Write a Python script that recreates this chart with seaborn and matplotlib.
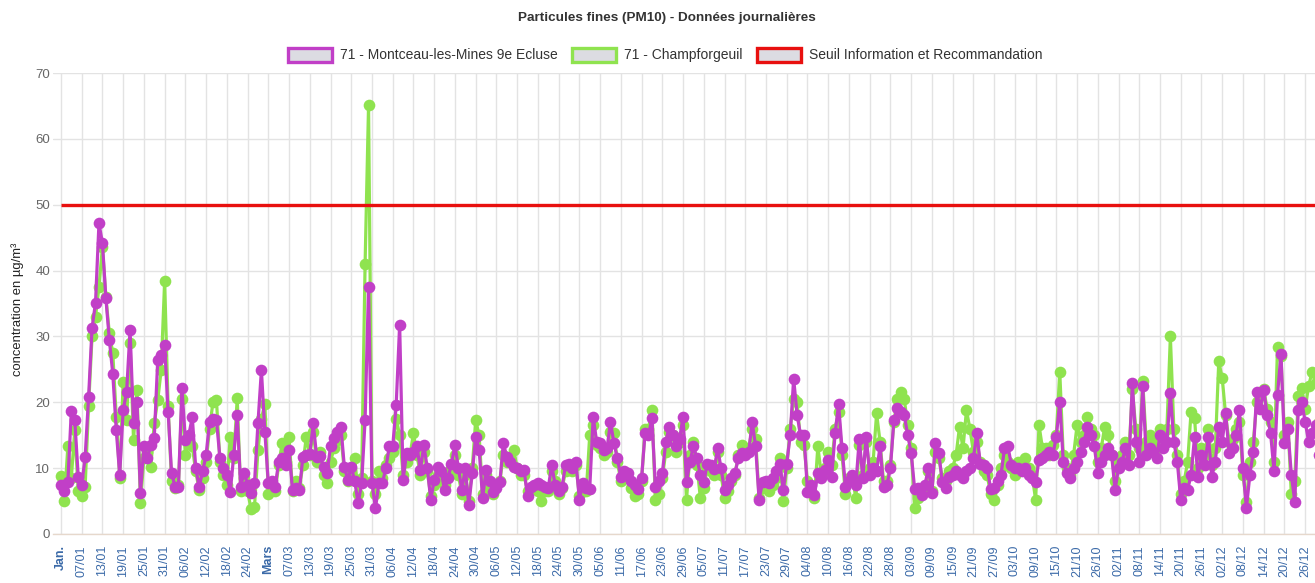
import matplotlib
matplotlib.use("Agg")
import matplotlib.pyplot as plt
import seaborn as sns
import pandas as pd
from matplotlib.patches import Rectangle

# ---------------- data (PM10 daily, µg/m³) ----------------
montceau = [
    7.4, 6.5, 7.9, 18.7, 17.3, 8.7, 7.4, 11.7, 20.8, 31.3,
    35.1, 47.2, 44.2, 35.8, 29.5, 24.3, 15.8, 9.0, 18.8, 21.6,
    31.0, 16.8, 20.1, 6.2, 13.3, 11.5, 13.5, 14.6, 26.4, 27.2,
    28.7, 18.6, 9.3, 7.2, 7.2, 22.2, 14.3, 15.0, 17.8, 10.0,
    7.2, 9.5, 12.0, 17.0, 17.5, 17.3, 11.5, 10.0, 9.0, 6.4,
    12.0, 18.0, 7.2, 9.3, 7.5, 6.2, 7.7, 16.8, 24.9, 15.5,
    7.7, 8.0, 7.2, 11.0, 11.5, 10.5, 12.7, 6.7, 7.0, 6.7,
    11.7, 12.0, 12.2, 16.8, 11.7, 11.8, 10.2, 9.3, 13.3, 14.6,
    15.5, 16.3, 10.2, 8.2, 10.2, 8.0, 4.7, 7.7, 17.3, 37.5,
    7.7, 3.9, 7.7, 7.7, 10.0, 13.3, 13.3, 19.6, 31.8, 8.2,
    12.3, 12.0, 12.5, 13.3, 9.7, 13.5, 10.0, 5.2, 8.2, 10.2,
    9.5, 6.7, 8.5, 10.7, 13.5, 10.0, 6.7, 10.0, 4.4, 9.2,
    14.8, 12.8, 5.4, 9.7, 8.0, 6.4, 7.0, 7.9, 13.8, 11.7,
    11.0, 10.2, 10.0, 9.5, 9.7, 5.7, 7.2, 7.5, 7.7, 7.5,
    7.2, 7.0, 10.5, 7.4, 6.5, 7.2, 10.5, 10.7, 10.0, 11.0,
    5.2, 7.7, 7.0, 6.9, 17.8, 14.0, 13.8, 12.8, 13.0, 17.0,
    13.8, 11.5, 8.7, 9.5, 9.2, 8.0, 7.5, 6.9, 8.5, 15.3,
    15.0, 17.6, 7.2, 8.0, 9.2, 14.0, 16.3, 15.0, 13.3, 14.5,
    17.8, 7.9, 11.0, 13.3, 11.5, 9.0, 7.9, 10.7, 10.5, 9.8,
    13.0, 10.0, 6.7, 7.5, 8.5, 9.2, 11.5, 12.3, 12.0, 12.5,
    17.0, 13.3, 5.2, 7.9, 8.0, 7.7, 8.5, 9.5, 10.7, 6.7,
    10.7, 15.0, 23.6, 18.1, 15.0, 15.0, 6.4, 7.5, 5.9, 9.2,
    8.5, 9.7, 11.2, 8.7, 15.3, 19.7, 13.0, 7.2, 8.0, 9.0,
    7.5, 14.5, 8.5, 14.8, 9.0, 10.0, 9.5, 13.3, 7.2, 7.5,
    10.0, 17.3, 19.1, 18.5, 18.1, 15.0, 12.3, 6.9, 7.0, 5.9,
    7.5, 10.0, 6.2, 13.8, 12.3, 7.9, 7.0, 8.7, 9.0, 9.5,
    9.0, 8.5, 9.5, 10.0, 11.5, 15.3, 10.7, 10.5, 10.0, 6.9,
    7.0, 8.0, 9.0, 13.0, 13.3, 10.5, 10.0, 10.0, 9.5, 10.0,
    9.0, 8.5, 7.9, 11.2, 11.5, 12.0, 12.5, 12.0, 14.8, 20.1,
    11.0, 9.2, 8.5, 10.0, 11.0, 12.5, 14.0, 16.3, 15.0, 13.3,
    9.2, 11.0, 12.0, 13.0, 12.0, 6.7, 10.0, 11.0, 13.0, 10.5,
    22.9, 14.0, 11.0, 22.4, 12.0, 13.0, 12.5, 11.5, 15.0, 13.0,
    14.0, 21.4, 14.0, 11.0, 5.2, 7.0, 6.7, 9.0, 14.8, 8.7,
    12.0, 10.5, 14.8, 8.7, 11.0, 16.3, 14.0, 18.3, 12.3, 13.0,
    15.0, 18.8, 10.0, 3.9, 9.0, 12.5, 21.6, 19.0, 21.9, 18.0,
    15.3, 9.5, 21.1, 27.4, 13.8, 16.0, 9.0, 4.9, 18.8, 20.1,
    17.0, 14.0, 15.3, 16.5, 12.0, 14.0,
]

champforgeuil = [
    8.8, 5.0, 13.3, 8.5, 15.8, 6.5, 5.7, 7.2, 19.5, 30.0,
    33.0, 37.5, 43.6, 36.0, 30.5, 27.5, 17.8, 8.5, 23.1, 17.3,
    29.0, 14.3, 21.9, 4.7, 11.5, 12.5, 10.2, 16.8, 20.3, 24.9,
    38.4, 19.5, 8.0, 7.0, 7.5, 20.5, 12.0, 14.0, 13.3, 9.5,
    6.7, 8.5, 11.0, 16.0, 20.1, 20.3, 11.0, 9.0, 7.5, 14.8,
    11.5, 20.6, 6.5, 8.5, 6.5, 3.8, 4.1, 12.7, 17.5, 19.8,
    6.0, 7.5, 6.5, 10.5, 13.8, 11.0, 14.8, 6.5, 8.0, 7.0,
    10.5, 14.8, 12.0, 15.5, 11.0, 12.5, 9.0, 7.7, 11.0, 13.0,
    14.3, 15.0, 9.5, 8.0, 9.0, 11.5, 6.0, 8.5, 41.0, 65.1,
    8.0, 6.0, 9.5, 8.5, 10.5, 11.5, 12.5, 17.5, 15.0, 9.0,
    11.0, 12.0, 15.3, 12.0, 9.0, 12.5, 9.5, 5.8, 7.5, 9.0,
    8.5, 7.5, 9.0, 10.0, 12.0, 9.0, 6.0, 9.0, 5.0, 10.0,
    17.3, 15.0, 6.0, 9.0, 7.0, 6.0, 7.5, 8.0, 12.0, 11.0,
    11.5, 12.8, 10.0, 9.0, 9.0, 6.5, 7.0, 7.0, 6.5, 5.0,
    6.5, 6.5, 9.5, 8.0, 6.0, 7.0, 9.5, 10.0, 9.5, 10.5,
    5.8, 6.5, 6.5, 15.0, 16.5, 13.5, 13.0, 12.0, 12.5, 15.5,
    15.3, 11.0, 8.0, 9.0, 8.5, 7.0, 5.7, 6.0, 8.0, 16.0,
    16.0, 18.8, 5.2, 6.0, 8.5, 12.5, 15.5, 15.0, 12.5, 14.0,
    16.5, 5.2, 12.0, 14.0, 10.5, 5.5, 7.0, 10.0, 9.5, 9.0,
    12.5, 9.0, 5.5, 6.5, 8.0, 9.0, 12.0, 13.5, 12.5, 13.0,
    16.0, 14.5, 5.5, 7.0, 7.0, 6.5, 7.5, 8.5, 11.5, 5.0,
    10.0, 16.0, 20.5, 20.0, 14.0, 13.5, 8.0, 6.5, 5.5, 13.3,
    9.0, 10.0, 12.5, 10.5, 16.0, 18.5, 12.0, 6.0, 8.5, 8.5,
    5.5, 13.5, 9.0, 14.0, 10.0, 11.0, 18.3, 14.0, 8.0, 8.0,
    10.5, 17.0, 20.5, 21.6, 20.5, 16.5, 13.0, 3.9, 5.5, 6.0,
    7.0, 9.5, 6.5, 12.5, 11.5, 8.5, 8.0, 9.5, 10.0, 12.0,
    16.3, 13.0, 18.8, 16.0, 12.5, 14.0, 11.0, 9.5, 9.0, 6.0,
    5.2, 7.5, 10.0, 12.0, 11.0, 10.0, 9.0, 11.0, 10.5, 11.5,
    10.0, 9.0, 5.2, 16.5, 13.0, 13.0, 12.0, 13.5, 15.0, 24.6,
    12.0, 10.0, 9.0, 12.0, 16.5, 14.0, 15.0, 17.8, 16.0, 15.0,
    11.0, 13.0, 16.3, 15.0, 12.0, 8.0, 11.0, 12.0, 14.0, 12.0,
    22.0, 16.0, 13.0, 23.2, 14.0, 15.0, 14.5, 13.0, 16.0, 15.0,
    16.0, 30.0, 16.0, 12.0, 6.0, 8.0, 11.0, 18.6, 17.6, 10.0,
    13.0, 12.0, 16.0, 10.5, 13.0, 26.2, 23.7, 18.0, 14.0, 14.5,
    16.0, 17.0, 9.0, 4.9, 11.0, 14.0, 20.0, 21.0, 22.0, 19.0,
    17.0, 11.0, 28.4, 27.0, 15.0, 17.0, 6.0, 8.0, 21.0, 22.2,
    19.0, 22.5, 24.6, 23.0, 17.0, 16.0,
]

days = list(range(len(montceau)))          # day index from 1 January
seuil = 50                                  # information threshold

tick_days = list(range(0, 361, 6))
tick_labels = [
    "Jan.", "07/01", "13/01", "19/01", "25/01", "31/01", "06/02", "12/02", "18/02", "24/02",
    "Mars", "07/03", "13/03", "19/03", "25/03", "31/03", "06/04", "12/04", "18/04", "24/04",
    "30/04", "06/05", "12/05", "18/05", "24/05", "30/05", "05/06", "11/06", "17/06", "23/06",
    "29/06", "05/07", "11/07", "17/07", "23/07", "29/07", "04/08", "10/08", "16/08", "22/08",
    "28/08", "03/09", "09/09", "15/09", "21/09", "27/09", "03/10", "09/10", "15/10", "21/10",
    "26/10", "02/11", "08/11", "14/11", "20/11", "26/11", "02/12", "08/12", "14/12", "20/12",
    "26/12",
]

name_m = "71 - Montceau-les-Mines 9e Ecluse"
name_c = "71 - Champforgeuil"
name_s = "Seuil Information et Recommandation"
col_m = "#c13fc7"
col_c = "#8fe34f"
col_s = "#e8100f"

# ---------------- figure ----------------
sns.set_theme(style="white")
plt.rcParams["font.family"] = ["Liberation Sans", "DejaVu Sans"]

W, H = 1315, 583
fig = plt.figure(figsize=(W / 100, H / 100), dpi=100)
left_px, right_px, top_px, bottom_px = 53, W, 73, 534
ax = fig.add_axes([left_px / W, (H - bottom_px) / H,
                   (right_px - left_px) / W, (bottom_px - top_px) / H])

df = pd.DataFrame({
    "jour": days + days,
    "valeur": champforgeuil + montceau,
    "station": [name_c] * len(days) + [name_m] * len(days),
})

sns.lineplot(data=df, x="jour", y="valeur", hue="station",
             hue_order=[name_c, name_m],
             palette={name_c: col_c, name_m: col_m},
             marker="o", markersize=8.4, markeredgewidth=0,
             linewidth=2.3, errorbar=None, legend=False, ax=ax, zorder=3)

ax.hlines(seuil, days[0], days[-1], color=col_s, linewidth=2.4, zorder=5)

ax.set_xlim(-2.3, (W - 61) / 3.456)
ax.set_ylim(0, 70)
ax.set_yticks(range(0, 71, 10))
ax.set_xticks(tick_days)
ax.set_xticklabels(tick_labels, rotation=90, fontsize=9, color="#3b6aa8")
for lbl in ax.get_xticklabels():
    if lbl.get_text() in ("Jan.", "Mars"):
        lbl.set_fontweight("bold")
ax.tick_params(axis="y", labelsize=9.5, labelcolor="#666666", length=0, pad=2)
ax.tick_params(axis="x", length=0, pad=8)
ax.set_xlabel("")
ax.set_ylabel("")
ax.grid(True, color="#e3e3e3", linewidth=1)
ax.set_axisbelow(True)
for s in ("top", "right", "left"):
    ax.spines[s].set_visible(False)
ax.spines["bottom"].set_color("#e6d8cc")
ax.spines["bottom"].set_linewidth(1)

# y axis title
fig.text(18 / W, 1 - 309 / H, "concentration en µg/m³", rotation=90,
         ha="center", va="center", fontsize=9.4, color="#222222")

# title
fig.text(667 / W, 1 - 18 / H, "Particules fines (PM10) - Données journalières",
         ha="center", va="center", fontsize=9.7, fontweight="bold", color="#333333")

# legend
items = [(288, name_m, col_m), (572, name_c, col_c), (757, name_s, col_s)]
for x0, label, col in items:
    fig.add_artist(Rectangle((x0 / W, 1 - 62 / H), 44 / W, 14 / H,
                             transform=fig.transFigure, facecolor="#dcdce2",
                             edgecolor=col, linewidth=2.4))
    fig.text((x0 + 52) / W, 1 - 55 / H, label, ha="left", va="center",
             fontsize=10, color="#333333")

fig.savefig("out.png", dpi=100)
